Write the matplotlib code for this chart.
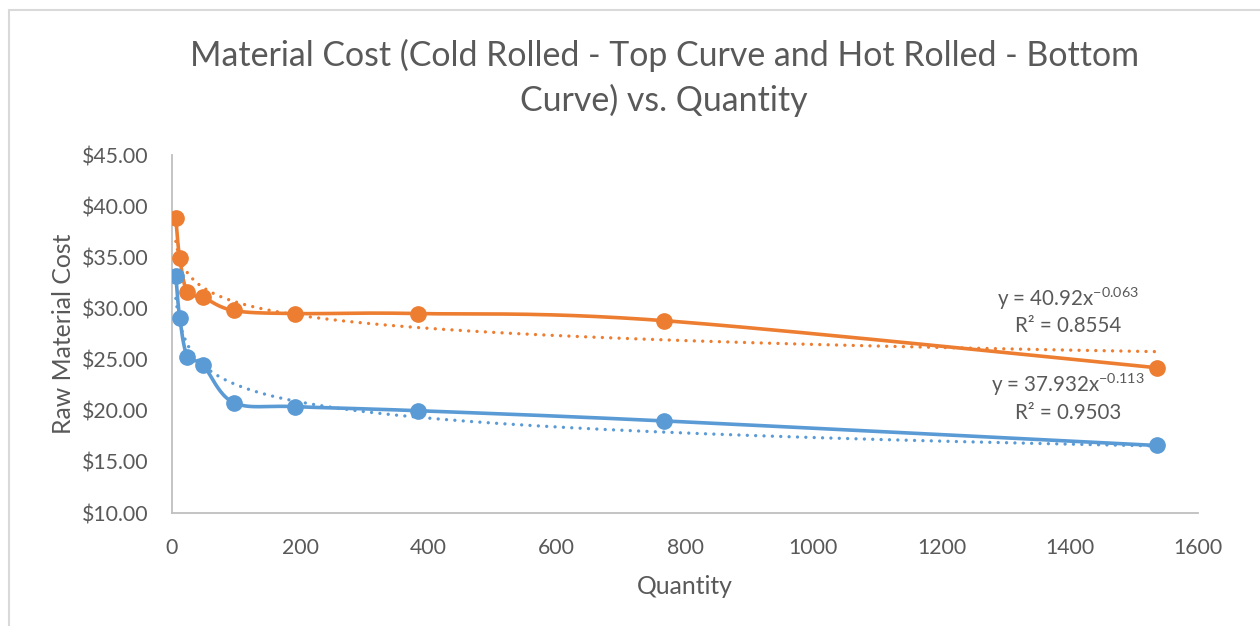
import numpy as np
import matplotlib
matplotlib.use('Agg')
import matplotlib.pyplot as plt
from matplotlib.patches import Rectangle
from matplotlib.ticker import FuncFormatter

# data
quantity = [6, 12, 24, 48, 96, 192, 384, 768, 1536]
cold_rolled = [38.8, 34.9, 31.6, 31.1, 29.8, 29.5, 29.5, 28.8, 24.2]
hot_rolled = [33.2, 29.1, 25.3, 24.5, 20.8, 20.4, 20.0, 19.0, 16.6]

# power trendlines as printed on the chart
cold_fit = (40.92, -0.063)
hot_fit = (37.932, -0.113)
cold_label = 'y = 40.92x$^{-0.063}$\nR² = 0.8554'
hot_label = 'y = 37.932x$^{-0.113}$\nR² = 0.9503'

orange = '#ED7D31'
blue = '#5B9BD5'
grey_txt = '#595959'

plt.rcParams['font.family'] = ['Lato', 'DejaVu Sans']
plt.rcParams['mathtext.fontset'] = 'custom'
plt.rcParams['mathtext.rm'] = 'Lato'
plt.rcParams['mathtext.it'] = 'Lato'


def smooth_line(ax, xs, ys, n=40):
    # Excel-like smoothed line: Catmull-Rom bezier in display space
    pts = ax.transData.transform(np.column_stack([xs, ys]))
    p = np.vstack([pts[0], pts, pts[-1]])
    out = []
    for i in range(1, len(p) - 2):
        p0, p1, p2, p3 = p[i - 1], p[i], p[i + 1], p[i + 2]
        c1 = p1 + (p2 - p0) / 6.0
        c2 = p2 - (p3 - p1) / 6.0
        t = np.linspace(0, 1, n)[:, None]
        seg = ((1 - t) ** 3) * p1 + 3 * ((1 - t) ** 2) * t * c1 + 3 * (1 - t) * t ** 2 * c2 + t ** 3 * p2
        out.append(seg if i == 1 else seg[1:])
    out = np.vstack(out)
    return ax.transData.inverted().transform(out)


fig = plt.figure(figsize=(12.6, 6.26), dpi=100)
fig.patches.append(Rectangle((9 / 1260, -0.1), 1.2, 1 - 10 / 626 + 0.1, transform=fig.transFigure,
                             fill=False, edgecolor='#D9D9D9', linewidth=1.5))

ax = fig.add_axes([172 / 1260, 1 - 513 / 626, (1198 - 172) / 1260, (513 - 155) / 626])
ax.set_xlim(0, 1600)
ax.set_ylim(10, 45)
ax.set_xticks(np.arange(0, 1601, 200))
ax.set_yticks(np.arange(10, 46, 5))
ax.yaxis.set_major_formatter(FuncFormatter(lambda v, _: f'${v:.2f}'))

for side in ['top', 'right']:
    ax.spines[side].set_visible(False)
for side in ['left', 'bottom']:
    ax.spines[side].set_color('#BFBFBF')
    ax.spines[side].set_linewidth(1.3)
ax.tick_params(length=0, labelsize=15.3, colors=grey_txt)
ax.tick_params(axis='y', pad=17)
ax.tick_params(axis='x', pad=18)

for ys, col in [(cold_rolled, orange), (hot_rolled, blue)]:
    curve = smooth_line(ax, quantity, ys)
    ax.plot(curve[:, 0], curve[:, 1], color=col, linewidth=2.6, solid_capstyle='round', zorder=3)
    ax.plot(quantity, ys, 'o', color=col, markersize=11, zorder=5)

xfit = np.linspace(quantity[0], quantity[-1], 600)
for (a, b), col in [(cold_fit, orange), (hot_fit, blue)]:
    ax.plot(xfit, a * xfit ** b, color=col, linewidth=2.4, linestyle=(0, (0.01, 2.5)),
            dash_capstyle='round', zorder=4)

ax.text(1397, 29.75, cold_label, ha='center', va='center', fontsize=14.8, color=grey_txt,
        linespacing=1.3)
ax.text(1397, 21.3, hot_label, ha='center', va='center', fontsize=14.8, color=grey_txt,
        linespacing=1.3)

ax.set_xlabel('Quantity', fontsize=17.8, color=grey_txt, labelpad=12)
ax.set_ylabel('Raw Material Cost', fontsize=17.8, color=grey_txt, labelpad=5)
fig.text(664 / 1260, 1 - 78 / 626, 'Material Cost (Cold Rolled - Top Curve and Hot Rolled - Bottom\nCurve) vs. Quantity',
         ha='center', va='center', fontsize=24.4, color=grey_txt, linespacing=1.45)

fig.savefig('out.png', dpi=100)
